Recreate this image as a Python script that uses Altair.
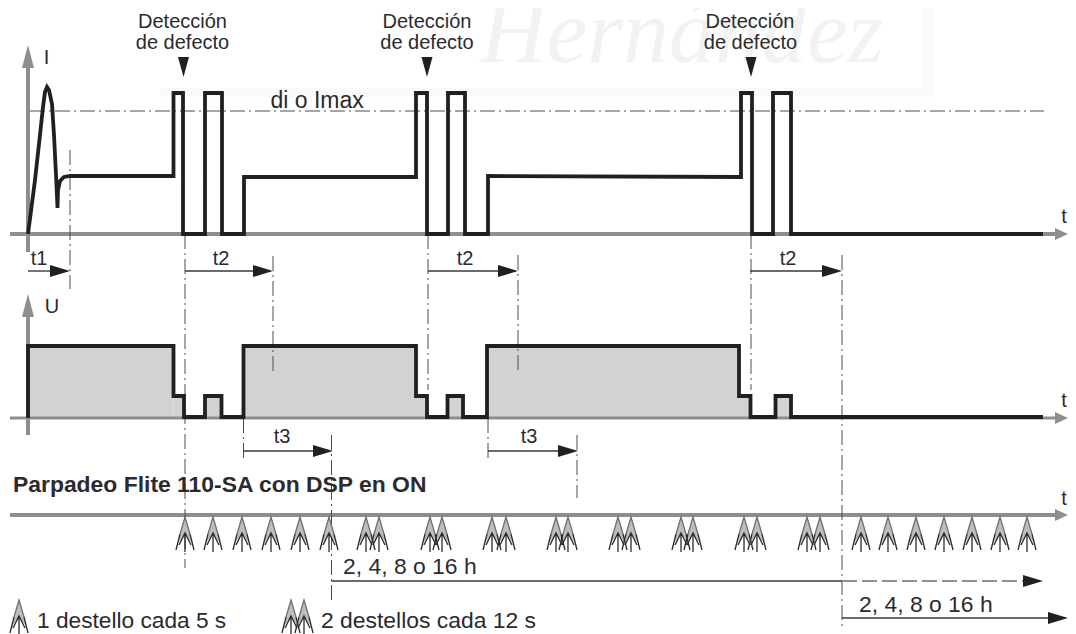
import altair as alt
import pandas as pd

# ---------- data (page pixels) ----------
I_X = [28,35,40,43,45,47,49,52,54,56,57.5,58,60,64,70,173.5,173.5,183,183,205,205,222,222,244,244,416,416,427,427,448,448,465,465,488,488,741,741,752,752,773,773,791,791,1043]
I_Y = [234,180,135,107,92,87,90,104,135,175,208,190,181,177,176,176,93,93,234,234,93,93,234,234,177,177,93,93,234,234,93,93,234,234,176,177,93,93,234,234,93,93,234,234]
U_X = [28,28,173.5,173.5,184,184,205,205,221.5,221.5,243.5,243.5,416,416,427,427,447.5,447.5,463,463,487,487,739,739,750.5,750.5,775.5,775.5,791,791,1043]
U_Y = [418,346,346,396,396,417,417,396,396,417,417,346,346,396,396,417,417,396,396,417,417,346,346,396,396,417,417,396,396,417,417]
FILL_X1 = [28,173.5,205,243.5,416,447.5,487,739,775.5]
FILL_X2 = [173.5,184,221.5,416,427,463,739,750.5,791]
FILL_TOP = [346,396,396,346,396,396,346,396,396]
FILL_BASE = [418,418,418,418,418,418,418,418,418]

GRAY_RULES = [(10,234,1056,234,4),(28,68,28,252,4),(28,316,28,435,4),(10,418,1056,418,3),(10,515,1056,515,4)]
GRAY_UP = [(28,45),(28,294)]
GRAY_RIGHT = [(1068,234),(1068,418),(1068,515)]
GUIDE_X1 = [30,70,185,273,243.5,331.5,428,518,488,577,751,842]
GUIDE_Y1 = [111,150,234,256,418,435,234,255,418,435,234,255]
GUIDE_X2 = [1044,70,185,273,243.5,331.5,428,518,488,577,751,842]
GUIDE_Y2 = [111,289,568,373,460,600,390,370,460,498,390,627]

ARROW_X1 = [28,185,428,750,243.5,488,331.5,842]
ARROW_X2 = [52,254,500,824,315,560,842,1056]
ARROW_Y = [271,271,271,271,451,451,581,618]
HEAD_X = [70,273,518,842,333,578,1043,1068]
HEAD_Y = [271,271,271,271,451,451,581,618]
DASHED_X1 = [842]
DASHED_X2 = [1025]
DASHED_Y = [581]
MARK_X = [183.5,427,751]
MARK_Y = [57,57,57]

FLASH_X = [185,213,242,271,300,329,366,379,430,442,492,506,556,568,618,631,681,693,744,757,807,820,861,888,916,944,972,1000,1027,19,291,304]
FLASH_Y = [517]*29 + [600]*3

LABELS = [
    ("Detección",182.5,28,20,"center","normal"),("de defecto",182.5,49,20,"center","normal"),
    ("Detección",427,28,20,"center","normal"),("de defecto",427,49,20,"center","normal"),
    ("Detección",750,28,20,"center","normal"),("de defecto",750.5,49,20,"center","normal"),
    ("I",46.5,64,20,"center","normal"),("U",52,313,20,"center","normal"),
    ("di o Imax",270.5,107.5,23,"left","normal"),
    ("t1",39,265,20,"center","normal"),("t2",221,265,20,"center","normal"),
    ("t2",465,265,20,"center","normal"),("t2",788,265,20,"center","normal"),
    ("t3",282,443,20,"center","normal"),("t3",529,443,20,"center","normal"),
    ("t",1064,223,20,"center","normal"),("t",1064,407,20,"center","normal"),("t",1064,505,20,"center","normal"),
    ("Parpadeo Flite 110-SA con DSP en ON",13,492,22.9,"left","bold"),
    ("2, 4, 8 o 16 h",343,574,22.9,"left","normal"),("2, 4, 8 o 16 h",859,612,22.9,"left","normal"),
    ("1 destello cada 5 s",37,628,22.7,"left","normal"),("2 destellos cada 12 s",321,628,22.9,"left","normal"),
]
WATERMARK_T = ["Hernández"]
WATERMARK_X = [480]
WATERMARK_Y = [62]
SHADOW_X1 = [160,922]
SHADOW_X2 = [935,935]
SHADOW_Y1 = [88,8]
SHADOW_Y2 = [97,97]

# ---------- scales ----------
SX = alt.Scale(domain=[8,1068], nice=False, zero=False)
SY = alt.Scale(domain=[634,8], nice=False, zero=False)
X = alt.X("x:Q", scale=SX, axis=None)
Y = alt.Y("y:Q", scale=SY, axis=None)
X2 = alt.X2("x2:Q")
Y2 = alt.Y2("y2:Q")
DARK = "#231f20"
GRAY = "#8e8e90"

def seq(xs, ys):
    return pd.DataFrame({"x": xs, "y": ys, "i": range(len(xs))})

def pts(xs, ys):
    return pd.DataFrame({"x": xs, "y": ys})

def head(xs, ys, path, color):
    return alt.Chart(pts(xs, ys)).mark_point(shape=path, size=4, filled=True, fill=color, stroke=None, opacity=1).encode(x=X, y=Y)

layers = []

# watermark
layers.append(alt.Chart(pd.DataFrame({"x":SHADOW_X1,"x2":SHADOW_X2,"y":SHADOW_Y1,"y2":SHADOW_Y2})).mark_rect(color="#fafafa").encode(x=X,x2=X2,y=Y,y2=Y2))
layers.append(alt.Chart(pd.DataFrame({"t": WATERMARK_T, "x": WATERMARK_X, "y": WATERMARK_Y})).mark_text(
    font="Liberation Serif", fontStyle="italic", fontSize=92, align="left", baseline="alphabetic", color="#f2f2f2"
).encode(x=X, y=Y, text="t:N"))

# U fill
layers.append(alt.Chart(pd.DataFrame({"x":FILL_X1,"x2":FILL_X2,"y":FILL_TOP,"y2":FILL_BASE})).mark_rect(color="#d1d2d4").encode(x=X,x2=X2,y=Y,y2=Y2))

# gray axes
ga = pd.DataFrame(GRAY_RULES, columns=["x","y","x2","y2","w"])
for w, g in ga.groupby("w"):
    layers.append(alt.Chart(g).mark_rule(color=GRAY, strokeWidth=float(w)).encode(x=X, y=Y, x2=X2, y2=Y2))
layers.append(head([p[0] for p in GRAY_UP],[p[1] for p in GRAY_UP],"M0,0L6,23L-6,23Z",GRAY))
layers.append(head([p[0] for p in GRAY_RIGHT],[p[1] for p in GRAY_RIGHT],"M0,0L-13,-6L-13,6Z",GRAY))

# dash-dot guides
gd = pd.DataFrame({"x":GUIDE_X1,"y":GUIDE_Y1,"x2":GUIDE_X2,"y2":GUIDE_Y2})
layers.append(alt.Chart(gd).mark_rule(color="#4d4d4f", strokeWidth=1, strokeDash=[15,4,2,4]).encode(x=X,y=Y,x2=X2,y2=Y2))

# traces
layers.append(alt.Chart(seq(I_X,I_Y)).mark_line(color=DARK, strokeWidth=3.8, strokeJoin="miter", interpolate="linear").encode(x=X,y=Y,order="i:Q"))
layers.append(alt.Chart(seq(U_X,U_Y)).mark_line(color=DARK, strokeWidth=3.8, strokeJoin="miter", interpolate="linear").encode(x=X,y=Y,order="i:Q"))

# interval arrows
ar = pd.DataFrame({"x":ARROW_X1,"x2":ARROW_X2,"y":ARROW_Y})
layers.append(alt.Chart(ar).mark_rule(color="#3a3a3c", strokeWidth=1.4).encode(x=X,y=Y,x2=X2))
dr = pd.DataFrame({"x":DASHED_X1,"x2":DASHED_X2,"y":DASHED_Y})
layers.append(alt.Chart(dr).mark_rule(color="#ffffff", strokeWidth=2).encode(x=X,y=Y,x2=X2))
layers.append(alt.Chart(dr).mark_rule(color="#6d6e70", strokeWidth=1.4, strokeDash=[15,5]).encode(x=X,y=Y,x2=X2))
layers.append(head(HEAD_X,HEAD_Y,"M0,0L-20,-6L-20,6Z",DARK))

# detection markers
layers.append(head(MARK_X,MARK_Y,"M-5.5,0L5.5,0L0,20Z",DARK))

# flashes
fl = pts(FLASH_X, FLASH_Y)
layers.append(alt.Chart(fl).mark_point(shape="M0,0L-7,26L0,17L7,26Z", size=4, filled=True, fill="#bcbdc0", stroke=None, opacity=1).encode(x=X,y=Y))
layers.append(alt.Chart(fl).mark_point(shape="M-5,17L0,0L5,17", size=4, filled=False, stroke="#6d6e70", strokeWidth=1.3, opacity=1).encode(x=X,y=Y))
layers.append(alt.Chart(fl).mark_point(shape="M-9,33L-5,17M9,33L5,17M-6,28L0,16L6,28M0,16L0,35", size=4, filled=False, stroke="#2b2b2d", strokeWidth=1.3, opacity=1).encode(x=X,y=Y))

# labels
lab = pd.DataFrame(LABELS, columns=["t","x","y","fs","al","wt"])
for (al, wt, fs), g in lab.groupby(["al","wt","fs"]):
    layers.append(alt.Chart(g).mark_text(font="Liberation Sans", fontSize=float(fs), fontWeight=wt, align=al, baseline="alphabetic", color="#2b2b2d").encode(x=X,y=Y,text="t:N"))

chart = alt.layer(*layers).properties(
    width=1060, height=626, padding=0, background="white",
    autosize=alt.AutoSizeParams(type="none", contains="content"),
).configure_view(stroke=None)
chart.save("out.html", embed_options={"renderer": "svg", "actions": False})
